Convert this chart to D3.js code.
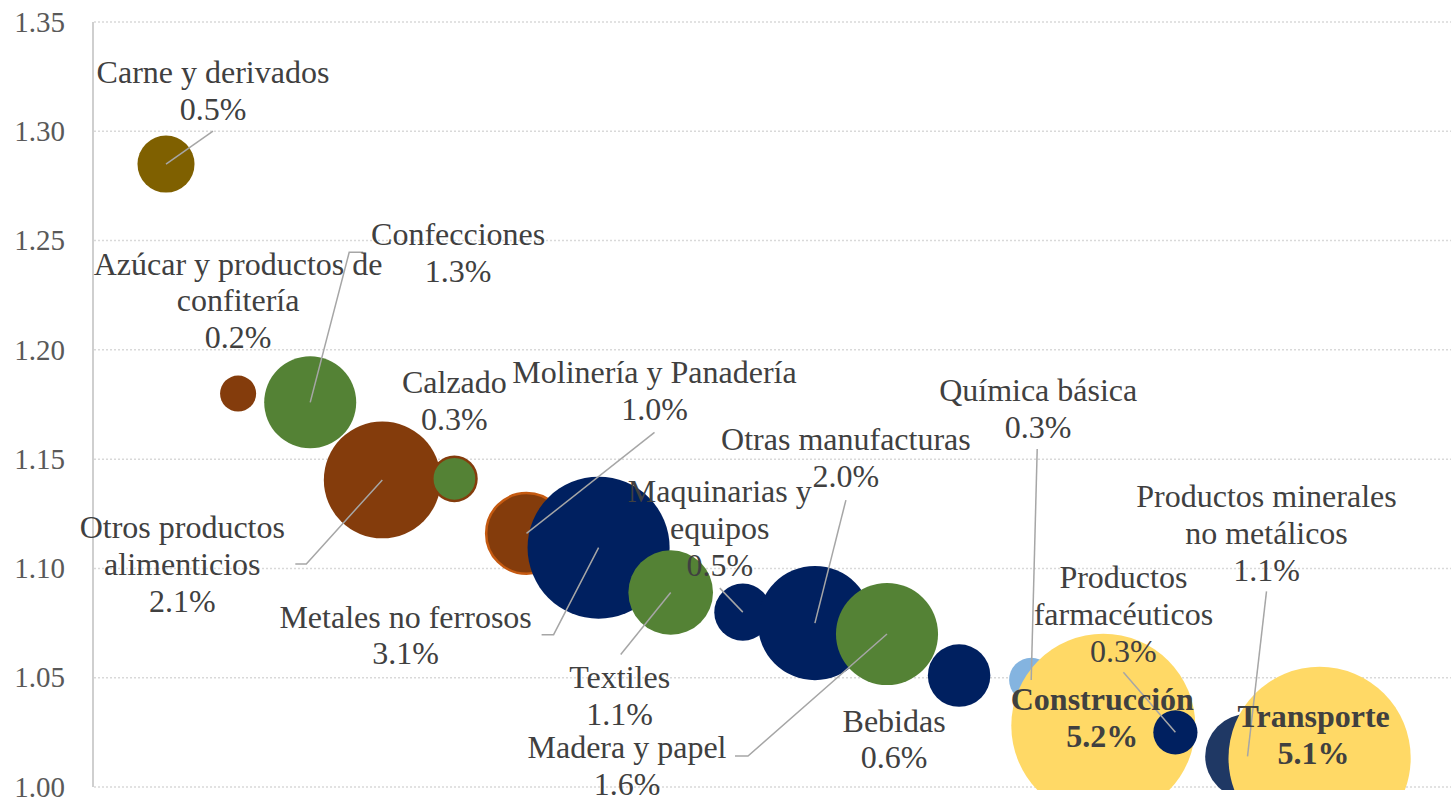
<!DOCTYPE html>
<html>
<head>
<meta charset="utf-8">
<script src="https://cdn.jsdelivr.net/npm/d3@7"></script>
<style>
  body { margin: 0; background: #fff; }
  svg { display: block; font-family: "Liberation Serif", "Times New Roman", serif; }
</style>
</head>
<body>
<svg width="1451" height="797"></svg>
<script>
// sector names, split the way the labels wrap
var sectorLines = [
  ["Carne y derivados"],
  ["Azúcar y productos de", "confitería"],
  ["Confecciones"],
  ["Otros productos", "alimenticios"],
  ["Calzado"],
  ["Molinería y Panadería"],
  ["Metales no ferrosos"],
  ["Textiles"],
  ["Maquinarias y", "equipos"],
  ["Otras manufacturas"],
  ["Madera y papel"],
  ["Bebidas"],
  ["Química básica"],
  ["Construcción"],
  ["Productos", "farmacéuticos"],
  ["Productos minerales", "no metálicos"],
  ["Transporte"]
];
var rank = [1, 2, 3, 4, 5, 6, 7, 8, 9, 10, 11, 12, 13, 14, 15, 16, 17];
var multiplier = [1.285, 1.180, 1.176, 1.1405, 1.141, 1.116, 1.1095, 1.089, 1.080, 1.075,
                  1.070, 1.051, 1.049, 1.028, 1.025, 1.014, 1.0133];
var share = [0.5, 0.2, 1.3, 2.1, 0.3, 1.0, 3.1, 1.1, 0.5, 2.0, 1.6, 0.6, 0.3, 5.2, 0.3, 1.1, 5.1];
var yTicks = [1.00, 1.05, 1.10, 1.15, 1.20, 1.25, 1.30, 1.35];

// styling per bubble
var fills = ["#7F6000", "#843C0C", "#548235", "#843C0C", "#548235", "#843C0C", "#002060", "#548235",
             "#002060", "#002060", "#548235", "#002060", "#84B4E0", "#FFD966", "#002060", "#1F3864", "#FFD966"];
var strokes = [null, null, null, null, "#843C0C", "#C55A11", null, null,
               null, null, null, null, null, null, null, null, null];
var highlighted = ["Construcción", "Transporte"]; // bold labels
// label anchor offset from bubble centre: [dx, dy] (centre of text, first baseline)
var labelOffset = [[47, -81], [0, -119], [148, -157], [-200, 58], [0, -86], [128, -150], [-193, 80],
                   [-51, 96], [-23, -110], [31, -173], [-260, 124], [-65, 56], [7, -279], [-1, -16],
                   [-52, -144], [19, -249], [-6, -31]];
// leader line points relative to the label anchor, the line ends at the bubble centre
var leaders = [[[0, 48]], null, [[-95, 7], [-109, 7]], [[113, 26], [124, 26]], null, [[0, 49]],
               [[136, 7], [148, 7]], [[1, -34]], [[0, 86]], [[0, 50]], [[108, -2], [121, -2]], null,
               [[-1, 48]], null, [[0, 84]], [[0, 84]], null];

var svg = d3.select("svg"),
    W = +svg.attr("width");

var x = d3.scaleLinear().domain([0, 18]).range([93.9, 93.9 + 18 * 72.1]),
    y = d3.scaleLinear().domain([1.00, 1.35]).range([787, 22]),
    r = d3.scaleSqrt().domain([0, 5.2]).range([0, 92]);

svg.append("defs").append("clipPath").attr("id", "plot")
  .append("rect").attr("x", 93).attr("y", 0).attr("width", W - 93).attr("height", 790);

// dotted gridlines
svg.append("g").selectAll("line").data(yTicks).enter().append("line")
  .attr("x1", 94).attr("x2", W)
  .attr("y1", function (d) { return y(d); }).attr("y2", function (d) { return y(d); })
  .attr("stroke", "#D9D9D9").attr("stroke-width", 1.5).attr("stroke-dasharray", "2,2");

// y axis
var yAxis = svg.append("g").attr("transform", "translate(93,0)")
  .call(d3.axisLeft(y).tickValues(yTicks).tickSize(0).tickPadding(28).tickFormat(d3.format(".2f")));
yAxis.select(".domain").remove();
yAxis.selectAll("text").attr("fill", "#595959").style("font-size", "29px")
  .style("font-family", "'Liberation Serif', 'Times New Roman', serif");
svg.append("line").attr("x1", 93).attr("x2", 93).attr("y1", y(1.35)).attr("y2", y(1.00))
  .attr("stroke", "#BFBFBF").attr("stroke-width", 1.5);

var data = rank.map(function (k, i) {
  var cx = x(k), cy = y(multiplier[i]);
  return { i: i, cx: cx, cy: cy, lx: cx + labelOffset[i][0], ly: cy + labelOffset[i][1] };
});

// bubbles, drawn in series order
svg.append("g").attr("clip-path", "url(#plot)")
  .selectAll("circle").data(data).enter().append("circle")
  .attr("cx", function (d) { return d.cx; })
  .attr("cy", function (d) { return d.cy; })
  .attr("r", function (d) { return r(share[d.i]); })
  .attr("fill", function (d) { return fills[d.i]; })
  .attr("stroke", function (d) { return strokes[d.i] || "none"; })
  .attr("stroke-width", 2.5);

// leader lines
svg.append("g").selectAll("path").data(data.filter(function (d) { return leaders[d.i]; }))
  .enter().append("path")
  .attr("d", function (d) {
    var pts = leaders[d.i].map(function (p) { return [d.lx + p[0], d.ly + p[1]]; });
    pts.push([d.cx, d.cy]);
    return d3.line()(pts);
  })
  .attr("fill", "none").attr("stroke", "#A6A6A6").attr("stroke-width", 1.5);

// labels: name lines + share
var lineH = 36.8;
var label = svg.append("g").selectAll("text").data(data).enter().append("text")
  .attr("text-anchor", "middle")
  .attr("fill", "#404040")
  .style("font-size", "32px")
  .style("font-weight", function (d) {
    return highlighted.indexOf(sectorLines[d.i][0]) >= 0 ? "bold" : "normal";
  });
label.each(function (d) {
  var t = d3.select(this),
      lines = sectorLines[d.i].concat([share[d.i].toFixed(1) + "%"]);
  lines.forEach(function (s, j) {
    t.append("tspan").attr("x", d.lx).attr("y", d.ly + j * lineH).text(s);
  });
});
</script>
</body>
</html>
